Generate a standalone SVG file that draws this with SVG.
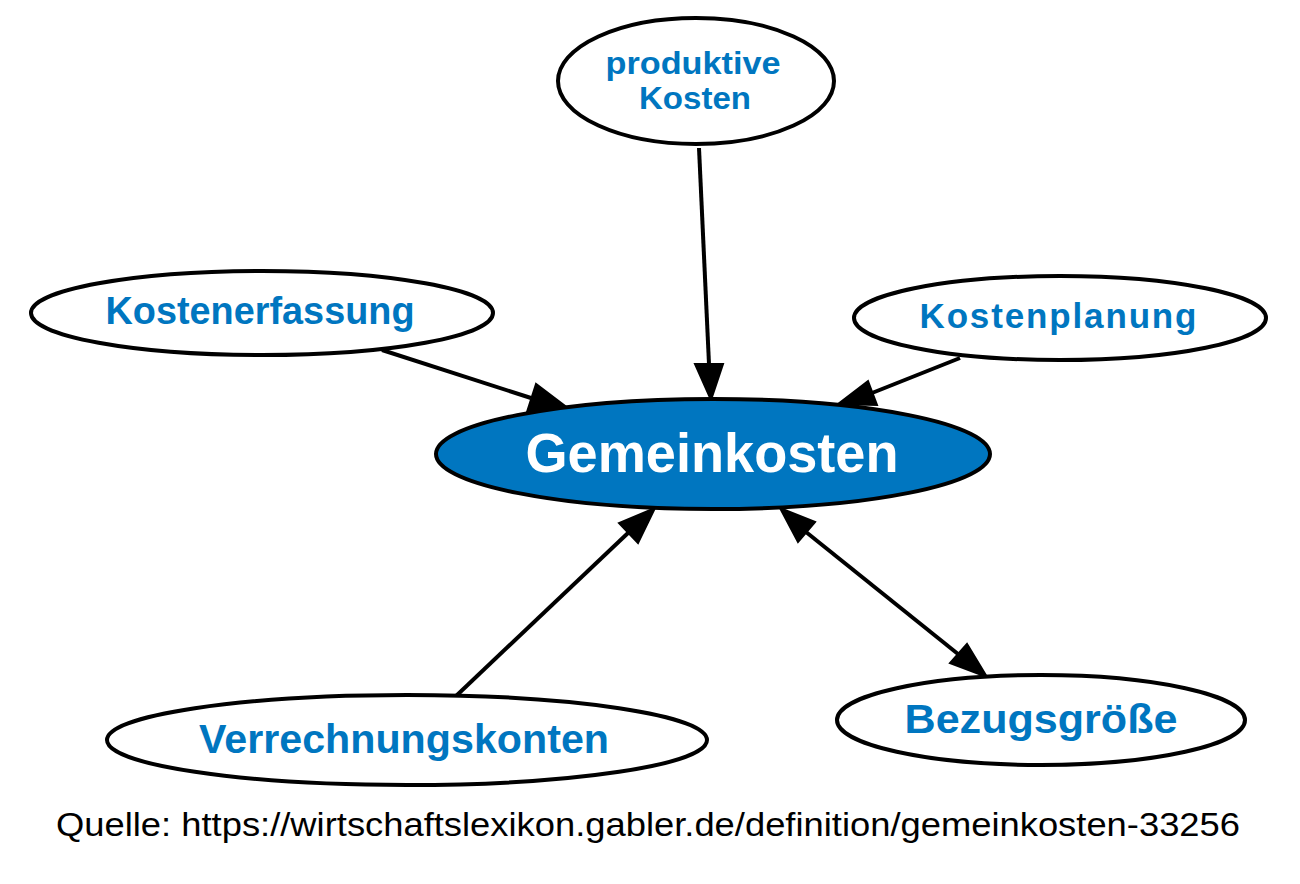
<svg xmlns="http://www.w3.org/2000/svg" width="1300" height="884" viewBox="0 0 1300 884">
<style>
.node ellipse{fill:#ffffff;stroke:#000000;stroke-width:4}
.main ellipse{fill:#0076c0}
.lbl{font-family:"Liberation Sans",Arial,sans-serif;font-weight:bold;fill:#0076c0;text-anchor:middle}
.mainlbl{fill:#ffffff}
.edge line{stroke:#000000;stroke-width:4}
.edge polygon{fill:#000000;stroke:#000000;stroke-width:2;stroke-linejoin:miter}
.src{font-family:"Liberation Sans",Arial,sans-serif;font-size:33px;fill:#000000}
</style>
<rect width="1300" height="884" fill="#ffffff"/>
<g id="connectors" class="edge">
<line x1="699" y1="148" x2="709" y2="364"/>
<polygon points="695,364 723,364 711,400"/>
<line x1="382" y1="350" x2="531" y2="398"/>
<polygon points="536,384 527,412 565,406"/>
<line x1="960" y1="358" x2="872" y2="393"/>
<polygon points="868,381 877,405 838,404"/>
<line x1="455" y1="697" x2="628" y2="533"/>
<polygon points="619,523 638,543 655,508"/>
<line x1="806" y1="532" x2="958" y2="654"/>
<polygon points="815,522 798,542 780,508"/>
<polygon points="967,644 950,663 987,677"/>
</g>
<g id="node-gemeinkosten" class="node main">
<ellipse cx="713" cy="454" rx="277" ry="55"/>
<text class="lbl mainlbl" x="712" y="472" font-size="55" textLength="373" lengthAdjust="spacingAndGlyphs">Gemeinkosten</text>
</g>
<g id="node-produktive-kosten" class="node">
<ellipse cx="696" cy="81" rx="138" ry="63"/>
<text class="lbl" x="693" y="74" font-size="32" textLength="175" lengthAdjust="spacingAndGlyphs">produktive</text>
<text class="lbl" x="695" y="109" font-size="32" textLength="112" lengthAdjust="spacingAndGlyphs">Kosten</text>
</g>
<g id="node-kostenerfassung" class="node">
<ellipse cx="262" cy="313" rx="231" ry="42"/>
<text class="lbl" x="260" y="324" font-size="38" textLength="309" lengthAdjust="spacingAndGlyphs">Kostenerfassung</text>
</g>
<g id="node-kostenplanung" class="node">
<ellipse cx="1060" cy="318" rx="206" ry="42"/>
<text class="lbl" x="1058" y="328" font-size="35" textLength="277" lengthAdjust="spacing">Kostenplanung</text>
</g>
<g id="node-verrechnungskonten" class="node">
<ellipse cx="407" cy="740" rx="300" ry="45"/>
<text class="lbl" x="404" y="753" font-size="41" textLength="410" lengthAdjust="spacingAndGlyphs">Verrechnungskonten</text>
</g>
<g id="node-bezugsgroesse" class="node">
<ellipse cx="1041" cy="720" rx="204" ry="45"/>
<text class="lbl" x="1041" y="733" font-size="40" textLength="273" lengthAdjust="spacingAndGlyphs">Bezugsgröße</text>
</g>
<text class="src" x="56" y="836" textLength="1184" lengthAdjust="spacingAndGlyphs">Quelle: https://wirtschaftslexikon.gabler.de/definition/gemeinkosten-33256</text>
</svg>
